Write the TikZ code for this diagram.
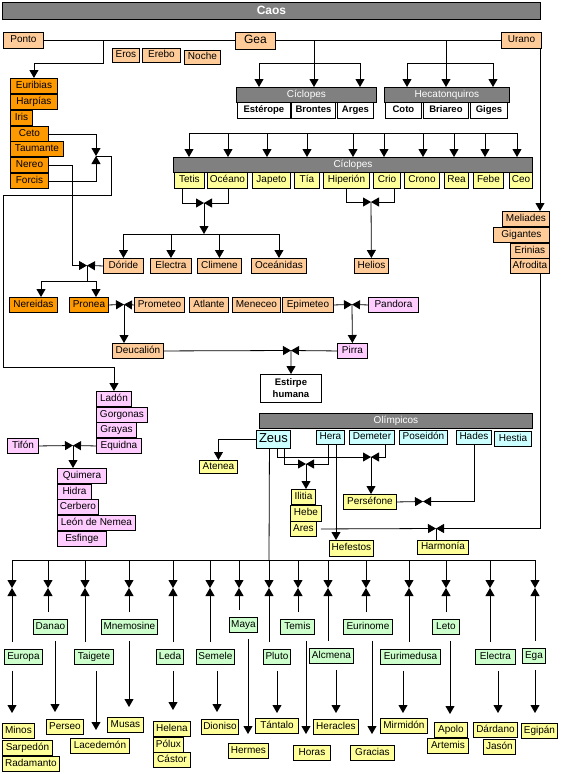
\documentclass[tikz,border=0pt]{standalone}
\usepackage{fontspec}
\setmainfont{Liberation Sans}
\usetikzlibrary{arrows.meta,calc}
\definecolor{cNar}{HTML}{FF9900}
\definecolor{cMel}{HTML}{FFCC99}
\definecolor{cAma}{HTML}{FFFF99}
\definecolor{cRos}{HTML}{FFCCFF}
\definecolor{cCel}{HTML}{CCFFFF}
\definecolor{cVer}{HTML}{CCFFCC}
\definecolor{cGris}{HTML}{808080}
\tikzset{
  caja/.style={draw,line width=0.9pt,anchor=north west,inner xsep=1pt,inner ysep=0pt,
    minimum height=15,text height=7pt,text depth=2pt,font=\fontsize{10}{11}\selectfont},
  nar/.style={caja,fill=cNar},
  mel/.style={caja,fill=cMel},
  ama/.style={caja,fill=cAma},
  ros/.style={caja,fill=cRos},
  cel/.style={caja,fill=cCel},
  ver/.style={caja,fill=cVer},
  gris/.style={caja,fill=cGris,text=white},
  bla/.style={caja,fill=white,font=\bfseries\fontsize{9.5}{11}\selectfont},
}
\begin{document}
\begin{tikzpicture}[x=1pt,y=-1pt,>={Triangle[width=9pt,length=8pt]},line width=0.8pt]
\useasboundingbox (0,0) rectangle (561,774);
% Caos y primera generacion
\node[gris,minimum width=538,minimum height=17,text height=9pt,font=\bfseries\fontsize{12}{14}\selectfont] (caos) at (2,2) {Caos};
\node[mel,minimum width=40,minimum height=16] (ponto) at (3,32) {Ponto};
\node[mel,minimum width=40,minimum height=17,text height=9pt,font=\fontsize{12}{14}\selectfont] (gea) at (235,31.5) {Gea};
\node[mel,minimum width=40,minimum height=16] (urano) at (501,32) {Urano};
\foreach \n/\x/\y/\w/\t in {eros/112/48/27/Eros,erebo/142/48/38/Erebo,noche/184/50/36/Noche}
  \node[mel,minimum width=\w,minimum height=14] (\n) at (\x,\y) {\t};
% Ciclopes y Hecatonquiros
\node[gris,minimum width=140] (ciclopesA) at (236,87) {Cíclopes};
\node[gris,minimum width=125] (hecaton) at (384,87) {Hecatonquiros};
\foreach \n/\x/\w/\t in {esterope/237/53/Estérope,brontes/291/44/Brontes,arges/337/36/Arges,coto/385/36/Coto,briareo/423/45/Briareo,giges/470/37/Giges}
  \node[bla,minimum width=\w,minimum height=16] (\n) at (\x,102) {\t};
% Titanes
\node[gris,minimum width=359] (ciclopesB) at (173,157) {Cíclopes};
\foreach \n/\x/\w/\t in {tetis/174/30/Tetis,oceano/207/40/Océano,japeto/252/38/Japeto,tia/294/25/Tía,hiperion/323/46/Hiperión,crio/373/27/Crio,crono/404/35/Crono,rea/444/24/Rea,febe/473/30/Febe,ceo/509/23/Ceo}
  \node[ama,minimum width=\w,minimum height=16] (\n) at (\x,172) {\t};
% hijos de Urano
\foreach \n/\x/\y/\w/\t in {meliades/502/211/47/Meliades,gigantes/493/227/56/Gigantes,erinias/510/243/39/Erinias,afrodita/510/258/39/Afrodita}
  \node[mel,minimum width=\w] (\n) at (\x,\y) {\t};
% hijos de Ponto y Gea
\foreach \n/\y/\w/\t in {euribias/78/47/Euribias,harpias/94/47/Harpías,iris/110/22/Iris,ceto/126/38/Ceto,taumante/141/53/Taumante,nereo/157/38/Nereo,forcis/173/38/Forcis}
  \node[nar,minimum width=\w] (\n) at (10,\y) {\t};
% Oceanidas y Helios
\foreach \n/\x/\w/\t in {doride/103/40/Dóride,electraA/150/41/Electra,climene/197/44/Climene,oceanidas/251/55/Oceánidas,helios/354/34/Helios}
  \node[mel,minimum width=\w] (\n) at (\x,258) {\t};
\node[nar,minimum width=48] (nereidas) at (9,297) {Nereidas};
\node[nar,minimum width=39] (pronea) at (69,297) {Pronea};
\foreach \n/\x/\w/\t in {prometeo/134/50/Prometeo,atlante/189/39/Atlante,meneceo/232/48/Meneceo,epimeteo/282/51/Epimeteo}
  \node[mel,minimum width=\w] (\n) at (\x,297) {\t};
\node[ros,minimum width=50] (pandora) at (368,297) {Pandora};
\node[mel,minimum width=51] (deucalion) at (112,343) {Deucalión};
\node[ros,minimum width=30] (pirra) at (337,343) {Pirra};
\node[draw,line width=0.9pt,fill=white,anchor=north west,minimum width=61,minimum height=28,align=center,inner sep=0pt,font=\bfseries\fontsize{9.5}{12}\selectfont] (estirpe) at (260,374) {Estirpe\\humana};
% Equidna y Tifon
\foreach \n/\y/\w/\t in {ladon/391/35/Ladón,gorgonas/407/51/Gorgonas,grayas/422/40/Grayas,equidna/438/45/Equidna}
  \node[ros,minimum width=\w] (\n) at (96,\y) {\t};
\node[ros,minimum width=31] (tifon) at (7,438) {Tifón};
\foreach \n/\y/\w/\t in {quimera/468/49/Quimera,hidra/484/34/Hidra,cerbero/499/41/Cerbero,leon/515/78/León de Nemea,esfinge/531/49/Esfinge}
  \node[ros,minimum width=\w] (\n) at (57,\y) {\t};
% Olimpicos
\node[gris,minimum width=273] (olimpicos) at (259,413) {Olímpicos};
\node[cel,minimum width=34,minimum height=18,text height=9pt,font=\fontsize{13}{15}\selectfont] (zeus) at (256,430) {Zeus};
\foreach \n/\x/\w/\t in {hera/316/28/Hera,demeter/349/45/Demeter,poseidon/399/48/Poseidón,hades/456/35/Hades}
  \node[cel,minimum width=\w,minimum height=14] (\n) at (\x,430) {\t};
\node[cel,minimum width=37] (hestia) at (494,431) {Hestia};
\node[ama,minimum width=38,minimum height=13] (atenea) at (199,460) {Atenea};
\node[ama,minimum width=24] (ilitia) at (291,489) {Ilitia};
\node[ama,minimum width=31,minimum height=16] (hebe) at (290,505) {Hebe};
\node[ama,minimum width=26] (ares) at (290,521) {Ares};
\node[ama,minimum width=53] (persefone) at (343,494) {Perséfone};
\node[ama,minimum width=44,minimum height=16] (hefestos) at (329,540) {Hefestos};
\node[ama,minimum width=51,minimum height=14] (harmonia) at (417,540) {Harmonía};
% madres
\foreach \n/\x/\y/\w/\t in {europa/4/649/38/Europa,danao/33/619/34/Danao,taigete/74/649/39/Taigete,mnemosine/101/619/56/Mnemosine,leda/156/649/27/Leda,semele/196/649/38/Semele,maya/229/617/28/Maya,pluto/263/649/27/Pluto,temis/280/619/34/Temis,alcmena/309/648/44/Alcmena,eurinome/343/619/49/Eurinome,eurimedusa/380/649/60/Eurimedusa,leto/432/619/27/Leto,electraB/475/649/40/Electra,ega/522/648/23/Ega}
  \node[ver,minimum width=\w] (\n) at (\x,\y) {\t};
% hijos de Zeus
\foreach \n/\x/\y/\w/\t in {minos/2/723/32/Minos,sarpedon/2/740/50/Sarpedón,radamanto/2/756/57/Radamanto,perseo/46/719/37/Perseo,lacedemon/70/738/59/Lacedemón,musas/107/717/36/Musas,helena/153/721/37/Helena,polux/153/737/30/Pólux,castor/153/752/37/Cástor,dioniso/201/719/37/Dioniso,hermes/228/743/40/Hermes,tantalo/255/718/43/Tántalo,horas/293/745/37/Horas,heracles/313/719/45/Heracles,gracias/350/745/44/Gracias,mirmidon/380/718/47/Mirmidón,apolo/434/722/33/Apolo,artemis/427/738/41/Artemis,dardano/473/722/44/Dárdano,jason/483/739/32/Jasón,egipan/521/723/36/Egipán}
  \node[ama,minimum width=\w] (\n) at (\x,\y) {\t};

% conexiones: Ponto, Gea, Urano
\coordinate (pg) at (103,40);
\coordinate (gc) at (314,40);
\coordinate (gh) at (446,40);
\draw (ponto.east) -- (ponto.east -| gea.west) (gea.east) -- (gea.east -| urano.west);
\draw[->] (pg) -- (103,63) -| (euribias);
\draw (gc) -- (314,63) (259,63) -- (360,63);
\foreach \x in {259,314,360} \draw[->] (\x,63) -- (\x,63 |- ciclopesA.north);
\draw (gh) -- (446,63) (407,63) -- (493,63);
\foreach \x in {407,446,493} \draw[->] (\x,63) -- (\x,63 |- hecaton.north);
\draw (189,133) -- (517,133);
\foreach \x in {189,228,267,307,353,384,423,454,485,517} \draw[->] (\x,133) -- (\x,133 |- ciclopesB.north);
% Tetis y Oceano
\coordinate (m1) at (204,203);
\draw[->] ([xshift=-7pt]tetis.south) |- (m1);
\draw[->] ([xshift=1pt]oceano.south) |- (m1);
\draw[->] (m1) -- (204,234);
\draw (doride.north |- 0,234) -- (oceanidas.north |- 0,234);
\foreach \n in {doride,electraA,climene,oceanidas} \draw[->] (\n.north |- 0,234) -- (\n.north);
% Hiperion y Crio
\coordinate (m2) at (371,202);
\draw[->] (hiperion.south) |- (m2);
\draw[->] ([xshift=7pt]crio.south) |- (m2);
\draw[->] (m2) -- (helios);
% Urano
\coordinate (mh) at (436,528.5);
\draw[->] (urano.south -| 540,0) -- (540,0 |- meliades.north);
\draw[->] (afrodita.south -| 540,0) |- (mh);
\draw[->] ([xshift=4pt]ares.east) -- (mh);
\draw (mh) -- (mh |- harmonia.north);
% Ceto y Forcis
\coordinate (m4) at (96,156);
\draw[->] (ceto.east) -| (m4);
\draw[->] (forcis.east) -| (m4);
\draw[->] (m4) -| (111,195) -| (3,367) -| (ladon);
% Nereo y Doride
\coordinate (m3) at (87,265.5);
\draw[->] (nereo.east) -| (72,265.5) -- (m3);
\draw[->] (doride.west) -- (m3);
\draw (m3) -- (87,281) (41,281) -- (96,281);
\draw[->] (41,281) -- (41,0 |- nereidas.north);
\draw[->] (96,281) -- (96,0 |- pronea.north);
% Pronea y Prometeo, Epimeteo y Pandora
\coordinate (m5) at (124,304.5);
\draw[->] (pronea.east) -- (m5);
\draw[->] (prometeo.west) -- (m5);
\draw[->] (m5) -- (m5 |- deucalion.north);
\coordinate (m6) at (352,304.5);
\draw[->] (epimeteo.east) -- (m6);
\draw[->] (pandora.west) -- (m6);
\draw[->] (m6) -- (pirra);
% Deucalion y Pirra
\coordinate (m7) at (291,350.5);
\draw[->] (deucalion.east) -- (m7);
\draw[->] (pirra.west) -- (m7);
\draw[->] (m7) -- (estirpe);
% Tifon y Equidna
\coordinate (m8) at (73,445.5);
\draw[->] (tifon.east) -- (m8);
\draw[->] (equidna.west) -- (m8);
\draw[->] (m8) -- (m8 |- quimera.north);
% Zeus
\draw[->] (zeus.west) -| (atenea);
\coordinate (m9) at (306,464);
\draw[->] ([xshift=11pt]zeus.south) |- (m9);
\draw[->] ([xshift=-2pt]hera.south) |- (m9);
\draw[->] (m9) -- (m9 |- ilitia.north);
\coordinate (m10) at (371,457);
\draw[->] ([xshift=4pt]zeus.south) |- (m10);
\draw[->] ([xshift=13pt]demeter.south) |- (m10);
\draw[->] (m10) -- (m10 |- persefone.north);
\coordinate (m11) at (423,501.5);
\draw[->] (persefone.east) -- (m11);
\draw[->] (hades.south) |- (m11);
\draw[->] (336,444) -- (336,0 |- hefestos.north);
\coordinate (zb) at (269,560);
\draw ([xshift=-4pt]zeus.south) -- (zb);
\draw (12,560) -- (535,560);
\foreach \x/\m/\d/\t in {12/europa/12/713,48/danao/55/712,85/taigete/96/730,129/mnemosine/129/707,173/leda/173/710,210/semele/217/712,239/maya/248/734,269/pluto/277/713,298/temis/306/734,328/alcmena/336/713,366/eurinome/372/734,409/eurimedusa/403/713,446/leto/450/714,490/electraB/498/713,535/ega/535/713} {
  \draw[->] (\x,560) -- (\x,588);
  \draw[->] ($(\m.north -| \x,0)+(0,-7)$) -- (\x,588);
  \draw[->] ($(\m.south -| \d,0)+(0,6)$) -- (\d,\t);
}
\end{tikzpicture}
\end{document}
